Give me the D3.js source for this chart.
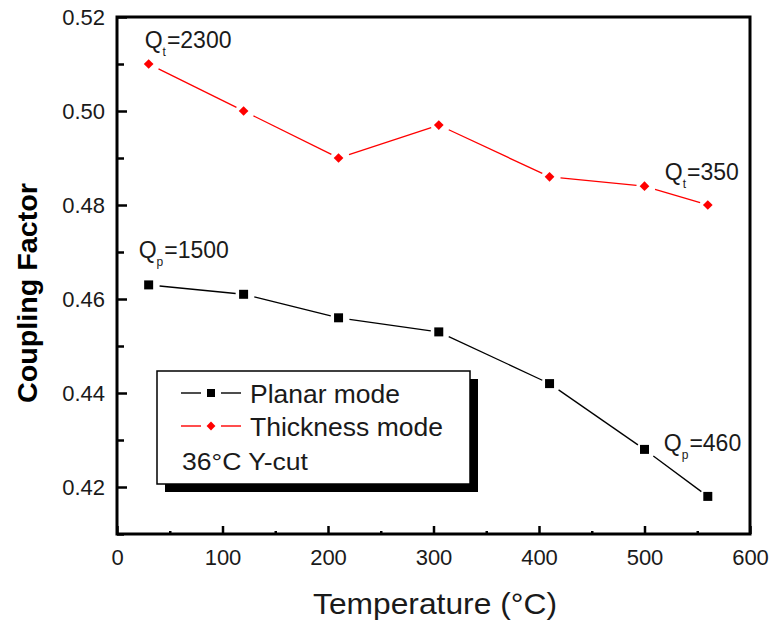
<!DOCTYPE html>
<html><head><meta charset="utf-8">
<script src="https://cdn.jsdelivr.net/npm/d3@7"></script>
<style>body{margin:0;background:#fff}svg{display:block}</style>
</head><body>
<svg id="c" width="771" height="622"></svg>
<script>
const temps = [30, 120, 210, 305, 410, 500, 560];
const planar = [0.463, 0.461, 0.456, 0.453, 0.442, 0.428, 0.418];
const thickness = [0.510, 0.500, 0.490, 0.497, 0.486, 0.484, 0.480];
const xTicks = [0, 100, 200, 300, 400, 500, 600];
const xMinorTicks = [50, 150, 250, 350, 450, 550];
const yTicks = [0.42, 0.44, 0.46, 0.48, 0.50, 0.52];
const yMinorTicks = [0.41, 0.43, 0.45, 0.47, 0.49, 0.51];
const seriesNames = ["Planar mode", "Thickness mode"];
const seriesColors = ["#000000", "#ff0000"];
const annotations = [
  {sub: "t", val: "=2300", x: 30, y: 0.510},
  {sub: "p", val: "=1500", x: 30, y: 0.463},
  {sub: "t", val: "=350", x: 560, y: 0.480},
  {sub: "p", val: "=460", x: 560, y: 0.418}
];
const annOffsets = [[-4, -16], [-10, -27], [-43, -25], [-44, -45]];

const svg = d3.select("#c");
const L = 117, R = 750, T = 17, B = 534;
const x = d3.scaleLinear().domain([0, 600]).range([L, R]);
const y = d3.scaleLinear().domain([0.41, 0.52]).range([B, T]);
const font = "'Liberation Sans',Arial,sans-serif";
const txt = "#1a1a1a";

// axes (ticks inward)
const gx = svg.append("g").attr("transform", `translate(0,${B})`)
  .call(d3.axisBottom(x).tickValues(xTicks).tickSize(-8).tickFormat(d3.format("d")));
gx.selectAll("text").attr("y", 31).attr("dy", 0).attr("font-size", 22).attr("font-family", font).attr("fill", txt);
svg.append("g").attr("transform", `translate(0,${B})`)
  .call(d3.axisBottom(x).tickValues(xMinorTicks).tickSize(-3).tickFormat(""));

const gy = svg.append("g").attr("transform", `translate(${L},0)`)
  .call(d3.axisLeft(y).tickValues(yTicks).tickSize(-10).tickFormat(d3.format(".2f")));
gy.selectAll("text").attr("x", -12).attr("dy", "0.36em").attr("font-size", 22).attr("font-family", font).attr("fill", txt);
svg.append("g").attr("transform", `translate(${L},0)`)
  .call(d3.axisLeft(y).tickValues(yMinorTicks).tickSize(-7).tickFormat(""));
svg.selectAll(".tick line").attr("stroke", "#000").attr("stroke-width", 2.5);
svg.selectAll(".domain").remove();

// frame
svg.append("rect").attr("x", L).attr("y", T).attr("width", R - L).attr("height", B - T)
  .attr("fill", "none").attr("stroke", "#000").attr("stroke-width", 3);

// axis titles
svg.append("text").attr("x", 313).attr("y", 614)
  .attr("font-family", font).attr("font-size", 30).attr("textLength", 244).attr("lengthAdjust", "spacingAndGlyphs")
  .attr("fill", txt).text("Temperature (°C)");
svg.append("text").attr("transform", `translate(37,403) rotate(-90)`)
  .attr("font-family", font).attr("font-size", 27).attr("font-weight", "bold")
  .attr("textLength", 220).attr("lengthAdjust", "spacingAndGlyphs")
  .attr("fill", "#000").text("Coupling Factor");

// series with gaps near markers
function shorten(a, b, g1, g2) {
  const dx = b[0] - a[0], dy = b[1] - a[1], l = Math.hypot(dx, dy);
  return [a[0] + dx / l * g1, a[1] + dy / l * g1, b[0] - dx / l * g2, b[1] - dy / l * g2];
}
function drawSeries(vals, color, marker) {
  const pts = temps.map((t, i) => [x(t), y(vals[i])]);
  const segs = d3.pairs(pts).map(([a, b]) => shorten(a, b, 11, 8));
  svg.append("g").selectAll("line").data(segs).join("line")
    .attr("x1", d => d[0]).attr("y1", d => d[1]).attr("x2", d => d[2]).attr("y2", d => d[3])
    .attr("stroke", color).attr("stroke-width", 1.3);
  const sym = marker === "square" ? d3.symbol(d3.symbolSquare, 81) : d3.symbol(d3.symbolDiamond2, 60);
  svg.append("g").selectAll("path").data(pts).join("path")
    .attr("transform", d => `translate(${d[0]},${d[1]})`).attr("d", sym).attr("fill", color);
}
drawSeries(planar, seriesColors[0], "square");
drawSeries(thickness, seriesColors[1], "diamond");

// annotations
annotations.forEach((a, i) => {
  const t = svg.append("text").attr("x", x(a.x) + annOffsets[i][0]).attr("y", y(a.y) + annOffsets[i][1])
    .attr("font-family", font).attr("font-size", 23).attr("fill", txt);
  t.append("tspan").text("Q");
  t.append("tspan").attr("font-size", 12).attr("dy", 8).attr("dx", 0).text(a.sub);
  t.append("tspan").attr("dy", -8).attr("dx", 1).text(a.val);
});

// legend
const lg = svg.append("g");
lg.append("rect").attr("x", 165).attr("y", 379).attr("width", 313).attr("height", 113).attr("fill", "#000");
lg.append("rect").attr("x", 157).attr("y", 371).attr("width", 313).attr("height", 113)
  .attr("fill", "#fff").attr("stroke", "#000").attr("stroke-width", 1.5);
const legendTextLen = [150, 193];
seriesNames.forEach((n, i) => {
  const yy = 393 + i * 33;
  lg.append("line").attr("x1", 181).attr("x2", 201).attr("y1", yy).attr("y2", yy).attr("stroke", seriesColors[i]).attr("stroke-width", 1.4);
  lg.append("line").attr("x1", 221).attr("x2", 241).attr("y1", yy).attr("y2", yy).attr("stroke", seriesColors[i]).attr("stroke-width", 1.4);
  const sym = i === 0 ? d3.symbol(d3.symbolSquare, 64) : d3.symbol(d3.symbolDiamond2, 50);
  lg.append("path").attr("transform", `translate(211,${yy})`).attr("d", sym).attr("fill", seriesColors[i]);
  lg.append("text").attr("x", 250).attr("y", yy + 10).attr("font-family", font)
    .attr("font-size", 25).attr("textLength", legendTextLen[i]).attr("lengthAdjust", "spacingAndGlyphs")
    .attr("fill", txt).text(n);
});
lg.append("text").attr("x", 182).attr("y", 470).attr("font-family", font)
  .attr("font-size", 23).attr("textLength", 126).attr("lengthAdjust", "spacingAndGlyphs")
  .attr("fill", txt).text("36°C Y-cut");
</script>
</body></html>
